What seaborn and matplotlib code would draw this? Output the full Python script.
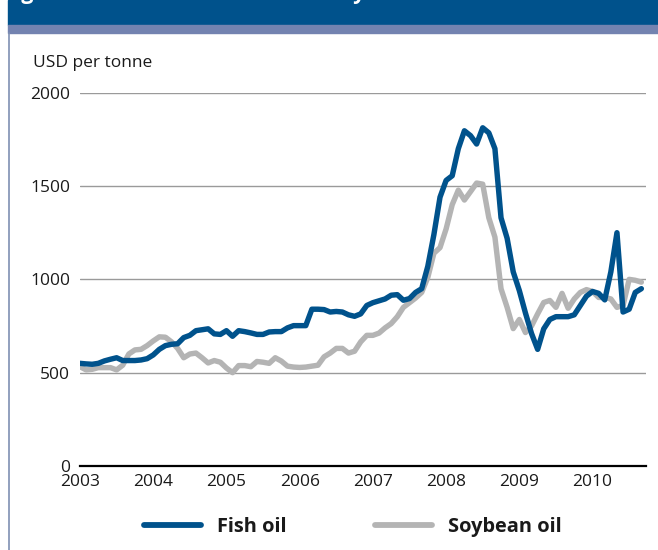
import numpy as np
import pandas as pd
import matplotlib
matplotlib.use("Agg")
import matplotlib.pyplot as plt
from matplotlib.patches import Rectangle
from matplotlib.lines import Line2D
import seaborn as sns

# ── Data (monthly, Jan 2003 – Sep 2010, USD per tonne) ───────────────────────
start_year = 2003
fish_oil = [
    550, 547, 545, 550, 563, 572, 580, 565, 565, 565, 568, 575,
    595, 625, 645, 652, 655, 688, 700, 725, 730, 735, 708, 705,
    725, 695, 725, 720, 713, 705, 705, 718, 720, 720, 740, 752,
    752, 752, 840, 840, 838, 825, 828, 825, 810, 802, 815, 860,
    875, 885, 895, 915, 918, 888, 897, 930, 950, 1070, 1240, 1440,
    1530, 1555, 1700, 1796, 1770, 1725, 1812, 1785, 1700, 1330, 1220, 1040,
    940, 820, 710, 625, 735, 785, 800, 800, 800, 810, 860, 910,
    935, 925, 890, 1040, 1250, 825, 840, 930, 950,
]
soybean_oil = [
    532, 515, 518, 527, 527, 527, 515, 540, 600, 622, 625, 645,
    670, 692, 690, 665, 630, 580, 600, 605, 580, 552, 565, 556,
    525, 500, 538, 538, 532, 560, 556, 550, 580, 562, 535, 530,
    528, 530, 535, 540, 585, 605, 630, 630, 605, 615, 665, 700,
    700, 712, 740, 763, 800, 850, 875, 900, 930, 1010, 1140, 1170,
    1270, 1400, 1478, 1425, 1470, 1516, 1510, 1330, 1226, 950, 850, 736,
    785, 715, 750, 815, 876, 887, 850, 925, 845, 895, 930, 945,
    935, 903, 903, 895, 850, 860, 1000, 995, 985,
]
year_ticks = list(range(2003, 2011))
y_ticks = [0, 500, 1000, 1500, 2000]
series_names = ["Fish oil", "Soybean oil"]

BLUE = "#00528c"
GREY = "#b4b4b4"
BAND = "#7383b0"

# ── Style ─────────────────────────────────────────────────────────────────────
sns.set_theme(style="white")
plt.rcParams["font.family"] = ["Open Sans", "DejaVu Sans"]
plt.rcParams["text.color"] = "#1a1a1a"

dates = pd.date_range(f"{start_year}-01-01", periods=len(fish_oil), freq="MS")
df = pd.DataFrame({
    "year": dates.year + (dates.month - 1) / 12,
    series_names[0]: fish_oil,
    series_names[1]: soybean_oil,
})

fig = plt.figure(figsize=(6.58, 5.5), dpi=100)
ax = fig.add_axes([80 / 658, 1 - 466 / 550, (646 - 80) / 658, (466 - 92.7) / 550])

# soybean first so fish oil sits on top
sns.lineplot(data=df, x="year", y=series_names[1], ax=ax, color=GREY,
             linewidth=3.9, solid_joinstyle="round", zorder=3)
sns.lineplot(data=df, x="year", y=series_names[0], ax=ax, color=BLUE,
             linewidth=3.9, solid_joinstyle="round", zorder=4)

ax.set_xlim(2003, 2010.73)
ax.set_ylim(0, 2000)
ax.set_xticks(year_ticks)
ax.set_yticks(y_ticks)
ax.set_xlabel("")
ax.set_ylabel("")
for y in y_ticks[1:]:
    ax.axhline(y, color="#9a9a9a", linewidth=1.0, zorder=1)

for side in ["left", "right", "top"]:
    ax.spines[side].set_visible(False)
ax.spines["bottom"].set_color("black")
ax.spines["bottom"].set_linewidth(1.6)
ax.spines["bottom"].set_zorder(5)
ax.tick_params(axis="x", direction="in", length=6, width=1.3, color="black",
               pad=6, labelsize=12.5, labelcolor="#1a1a1a")
ax.tick_params(axis="y", length=0, pad=7, labelsize=12.5, labelcolor="#1a1a1a")
ax.patch.set_alpha(0)

# ── Frame: banner, band, left rule ───────────────────────────────────────────
fig.patches.append(Rectangle((8 / 658, 1 - 25 / 550), 1, 25 / 550,
                             transform=fig.transFigure, color=BLUE, zorder=0))
fig.patches.append(Rectangle((8 / 658, 1 - 33 / 550), 1, 8 / 550,
                             transform=fig.transFigure, color=BAND, zorder=0))
fig.add_artist(Line2D([8.5 / 658, 8.5 / 658], [0, 1 - 33 / 550],
                      transform=fig.transFigure, color="#7f90b3", linewidth=1.2))
# title of the banner lies mostly outside the crop; only descenders show
fig.text(3 / 658, 1 + 1 / 550, "Figure 48  Prices of fish oil and soybean oil",
         color="white", fontsize=15.4, fontweight="bold", va="baseline", ha="left")

fig.text(33 / 658, 1 - 63 / 550, "USD per tonne", fontsize=12.5, va="center", ha="left")

handles = [Line2D([], [], color=BLUE, linewidth=4.2),
           Line2D([], [], color=GREY, linewidth=4.2)]
fig.legend(handles, series_names, loc="center", bbox_to_anchor=(353 / 658, 1 - 527 / 550),
           ncol=2, frameon=False, handlelength=2.85, handletextpad=0.8, columnspacing=4.4,
           prop={"family": ["Open Sans", "DejaVu Sans"], "weight": "bold", "size": 14.4})

fig.savefig("out.png", dpi=100)
